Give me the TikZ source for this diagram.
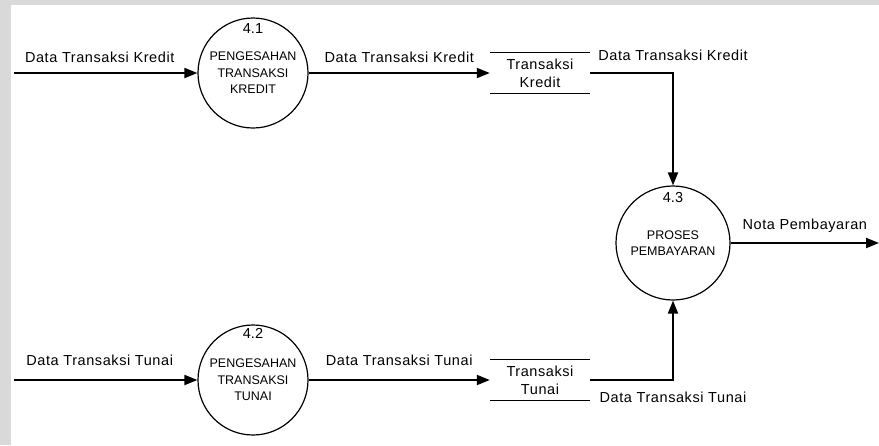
\documentclass[tikz,border=0pt]{standalone}
\usepackage{fontspec}
\setmainfont{Liberation Sans}
\newfontfamily\flowfont[LetterSpace=4]{Liberation Sans}
\usetikzlibrary{positioning, arrows.meta}

\begin{document}
\begin{tikzpicture}[ % one unit is one pixel of the scan, y runs downwards
x=1pt, y=-1pt,
process_circle/.style={circle, draw=black, fill=white, line width=1.2pt, minimum size=110pt, inner sep=0pt, align=center, font=\fontsize{12.5}{16.5}\selectfont},
number_text/.style={inner sep=0pt, font=\fontsize{14.5}{15}\selectfont},
store_box/.style={rectangle, minimum width=100pt, minimum height=41pt, inner sep=0pt, align=center, font=\flowfont\fontsize{14.5}{18}\selectfont},
store_line/.style={line width=1.4pt},
flow_arrow/.style={-{Triangle[length=13pt, width=10pt]}, line width=2pt},
flow_label/.style={inner sep=0pt, text height=10.5pt, text depth=0pt, font=\flowfont\fontsize{14.5}{17}\selectfont}
]
\useasboundingbox (0,0) rectangle (879,445);

% scanned page frame
\fill[black!15] (0,0) rectangle (879,445);
\fill[white] (11,5) rectangle (879,445);

% \node[type](name_of_node) at (x,y) {node_text}

\node[process_circle](kredit_check) at (253,73) {PENGESAHAN\\TRANSAKSI\\KREDIT};
\node[number_text](kredit_num) at (253,29) {4.1};

\node[process_circle](tunai_check) at (253,380) {PENGESAHAN\\TRANSAKSI\\TUNAI};
\node[number_text](tunai_num) at (253,333) {4.2};

\node[process_circle, minimum size=114pt](payment) at (673,243) {PROSES\\PEMBAYARAN};
\node[number_text](payment_num) at (673,198) {4.3};

\node[store_box](kredit_store) at (540,73) {Transaksi\\Kredit};
\node[store_box](tunai_store) at (540,380) {Transaksi\\Tunai};

\coordinate(kredit_in) at (14,73);
\coordinate(tunai_in) at (14,380);
\coordinate(nota_out) at (879,243);

% data stores are open boxes
\draw[store_line](kredit_store.north west) -- (kredit_store.north east);
\draw[store_line](kredit_store.south west) -- (kredit_store.south east);
\draw[store_line](tunai_store.north west) -- (tunai_store.north east);
\draw[store_line](tunai_store.south west) -- (tunai_store.south east);

% \draw[flow_arrow](from) to [] node[flow_label, above=..]{edge_text} (to)

\draw[flow_arrow](kredit_in) to [] node[flow_label, above=10pt, xshift=-6pt]{Data Transaksi Kredit} (kredit_check);
\draw[flow_arrow](kredit_check) to [] node[flow_label, above=10pt]{Data Transaksi Kredit} (kredit_store);
\draw[flow_arrow](kredit_store.east) -| node[flow_label, pos=0.5, above=12pt]{Data Transaksi Kredit} (payment.north);

\draw[flow_arrow](tunai_in) to [] node[flow_label, above=14pt, xshift=-6pt]{Data Transaksi Tunai} (tunai_check);
\draw[flow_arrow](tunai_check) to [] node[flow_label, above=14pt]{Data Transaksi Tunai} (tunai_store);
\draw[flow_arrow](tunai_store.east) -| node[flow_label, pos=0.5, below=11pt]{Data Transaksi Tunai} (payment.south);

\draw[flow_arrow](payment) to [] node[flow_label, above=13pt]{Nota Pembayaran} (nota_out);

\end{tikzpicture}
\end{document}
